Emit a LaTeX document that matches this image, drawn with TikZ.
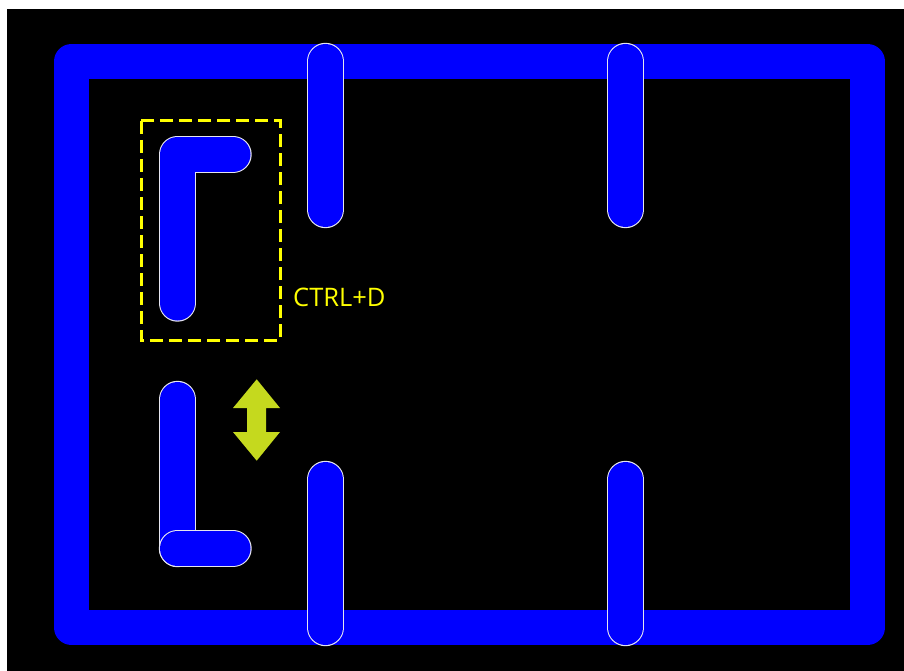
\documentclass[tikz,border=0pt]{standalone}
\usepackage{fontspec}
\setmainfont{Open Sans}
\usepackage{tikz}
\usetikzlibrary{arrows.meta,positioning,calc}
\usepackage{xcolor}
\definecolor{pcbblue}{HTML}{0000FF}
\definecolor{padrimgray}{HTML}{E6E6F0}
\definecolor{selyellow}{HTML}{FFFF00}
\definecolor{movelime}{HTML}{C5D91E}
\newcommand{\padtrace}[1]{%
  \draw[padrim] #1;
  \draw[padcore] #1;}

\begin{document}
\begin{tikzpicture}[x=1pt, y=-1pt,
    padrim/.style={line width=37.4pt, padrimgray, line cap=round, line join=round},
    padcore/.style={line width=35pt, pcbblue, line cap=round, line join=round},
    selbox/.style={selyellow, line width=3pt, dash pattern=on 13pt off 6pt}]
  %% Page and black canvas
  \useasboundingbox (0,0) rectangle (904,671);
  \fill[white] (0,0) rectangle (904,671);
  \fill[black] (7,9) rectangle (904,671);

  %% Board outline
  \draw[line width=35pt, pcbblue, line join=round] (71.5,61.5) rectangle (867.5,627.5);

  %% Pads crossing the outline
  \foreach \px in {325.5,625.5} {
    \padtrace{(\px,61.5) -- (\px,209.5)}
    \padtrace{(\px,479.5) -- (\px,627.5)}
  }

  %% Selected L (original)
  \padtrace{(233,154.5) -- (177.5,154.5) -- (177.5,303)}
  \draw[selbox] (141,121) rectangle (280,340);
  \node[selyellow, font=\fontsize{25.5}{28}\selectfont, inner sep=0pt, anchor=base west]
    (dup) at (293,306) {CTRL+D};

  %% Copied L (mirrored)
  \padtrace{(177.5,399.5) -- (177.5,548.5)}
  \padtrace{(177.5,548.5) -- (233,548.5)}

  %% Flip arrow
  \fill[movelime] (256.7,379.3) -- (280,408) -- (266,408) -- (266,432) -- (280,432)
    -- (256.7,460.7) -- (233,432) -- (247,432) -- (247,408) -- (233,408) -- cycle;
\end{tikzpicture}
\end{document}
